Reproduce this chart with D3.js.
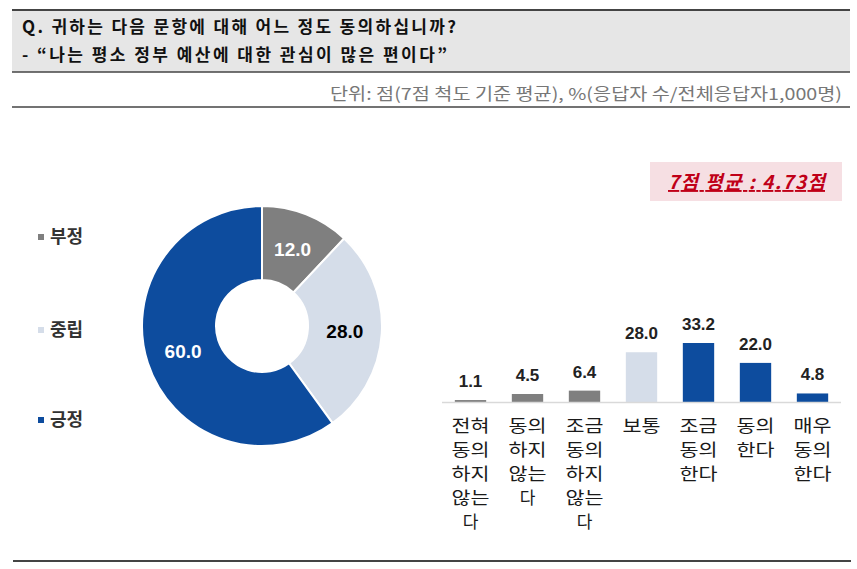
<!DOCTYPE html>
<html><head><meta charset="utf-8">
<script src="https://cdn.jsdelivr.net/npm/d3@7"></script>
<style>
body{margin:0;background:#fff;}
svg{display:block;}
</style></head>
<body>
<svg id="chart" width="857" height="569"></svg>
<script>
const titleLines = ["Q. 귀하는 다음 문항에 대해 어느 정도 동의하십니까?", "- \u201C나는 평소 정부 예산에 대한 관심이 많은 편이다\u201D"];
const unitText = "단위: 점(7점 척도 기준 평균), %(응답자 수/전체응답자1,000명)";
const avgText = "7점 평균 : 4.73점";

const donutCategories = ["부정", "중립", "긍정"];
const donutValues = [12.0, 28.0, 60.0];
const donutColors = ["#7f7f7f", "#d5dde9", "#0d4c9e"];
const donutLabelColors = ["#ffffff", "#000000", "#ffffff"];

const barCategories = [
  ["전혀","동의","하지","않는","다"],
  ["동의","하지","않는","다"],
  ["조금","동의","하지","않는","다"],
  ["보통"],
  ["조금","동의","한다"],
  ["동의","한다"],
  ["매우","동의","한다"]
];
const barValues = [1.1, 4.5, 6.4, 28.0, 33.2, 22.0, 4.8];
const barGroups = [0, 0, 0, 1, 2, 2, 2];

const svg = d3.select("#chart");
const kr = "'Noto Sans CJK KR','Noto Sans',sans-serif";
const num = "'Liberation Sans',Arial,sans-serif";

// Header
svg.append("rect").attr("x",12).attr("y",10).attr("width",838).attr("height",62).attr("fill","#e6e6e6");
svg.append("line").attr("x1",12).attr("x2",850).attr("y1",10).attr("y2",10).attr("stroke","#444").attr("stroke-width",2);
svg.append("line").attr("x1",12).attr("x2",850).attr("y1",72).attr("y2",72).attr("stroke","#444").attr("stroke-width",1.5);
svg.append("line").attr("x1",12).attr("x2",850).attr("y1",107).attr("y2",107).attr("stroke","#444").attr("stroke-width",1.5);
svg.append("line").attr("x1",13).attr("x2",851).attr("y1",561).attr("y2",561).attr("stroke","#444").attr("stroke-width",2);

svg.selectAll("text.title").data(titleLines).join("text")
  .attr("class","title")
  .attr("x",22).attr("y",(d,i)=>33 + i*28)
  .attr("font-family",kr).attr("font-size",17).attr("font-weight","bold")
  .attr("fill","#111")
  .attr("textLength",(d,i)=>i===0?434:425).attr("lengthAdjust","spacing")
  .text(d=>d);

svg.append("text").attr("x",842).attr("y",100).attr("text-anchor","end")
  .attr("font-family",kr).attr("font-size",16.5).attr("fill","#777")
  .attr("textLength",512).attr("lengthAdjust","spacingAndGlyphs")
  .text(unitText);

// Average box
svg.append("rect").attr("x",650).attr("y",162).attr("width",192).attr("height",39).attr("fill","#f6dfe3");
svg.append("text").attr("x",668).attr("y",189)
  .attr("font-family",kr).attr("font-size",19).attr("font-weight","bold").attr("font-style","italic")
  .attr("fill","#c00018").attr("text-decoration","underline")
  .attr("textLength",157).attr("lengthAdjust","spacing")
  .text(avgText);

// Legend
const legend = svg.append("g");
const legY = [237, 330, 420];
donutCategories.forEach((c,i)=>{
  legend.append("rect").attr("x",38).attr("y",legY[i]-3).attr("width",6).attr("height",6).attr("fill",donutColors[i]);
  legend.append("text").attr("x",50).attr("y",legY[i]+6)
    .attr("font-family",kr).attr("font-size",18).attr("font-weight","bold").attr("fill","#333").text(c);
});

// Donut
const cx = 262, cy = 326, rOuter = 120, rInner = 46;
const pie = d3.pie().sort(null).value(d=>d);
const arc = d3.arc().innerRadius(rInner).outerRadius(rOuter);
const arcs = pie(donutValues);
const dg = svg.append("g").attr("transform",`translate(${cx},${cy})`);
dg.selectAll("path").data(arcs).join("path")
  .attr("d",arc).attr("fill",(d,i)=>donutColors[i]).attr("stroke","#fff").attr("stroke-width",2);
dg.selectAll("text").data(arcs).join("text")
  .attr("transform",d=>`translate(${arc.centroid(d)})`)
  .attr("text-anchor","middle").attr("dy","0.36em")
  .attr("font-family",num).attr("font-size",19).attr("font-weight","bold")
  .attr("fill",(d,i)=>donutLabelColors[i])
  .text(d=>d.data.toFixed(1));

// Bars
const x = d3.scaleBand().domain(d3.range(barValues.length)).range([442,841]).paddingInner(0.45).paddingOuter(0.225);
const y = d3.scaleLinear().domain([0,33.2]).range([402,343]);
const bg = svg.append("g");
bg.selectAll("rect").data(barValues).join("rect")
  .attr("x",(d,i)=>x(i)).attr("width",x.bandwidth())
  .attr("y",d=>y(d)).attr("height",d=>y(0)-y(d))
  .attr("fill",(d,i)=>donutColors[barGroups[i]]);
svg.append("line").attr("x1",442).attr("x2",841).attr("y1",y(0)+0.5).attr("y2",y(0)+0.5).attr("stroke","#d9d9d9").attr("stroke-width",1.5);
bg.selectAll("text.val").data(barValues).join("text").attr("class","val")
  .attr("x",(d,i)=>x(i)+x.bandwidth()/2).attr("y",d=>y(d)-13)
  .attr("text-anchor","middle")
  .attr("font-family",num).attr("font-size",17).attr("font-weight","bold").attr("fill","#222")
  .text(d=>d.toFixed(1));
barCategories.forEach((lines,i)=>{
  lines.forEach((l,j)=>{
    const t = svg.append("text").attr("text-anchor","middle")
      .attr("font-family",kr).attr("font-size",17).attr("fill","#1a1a1a")
      .attr("x",x(i)+x.bandwidth()/2).attr("y",432 + j*24)
      .text(l);
    if (l.length > 1) t.attr("textLength",l.length*19).attr("lengthAdjust","spacingAndGlyphs");
  });
});
</script>
</body></html>
